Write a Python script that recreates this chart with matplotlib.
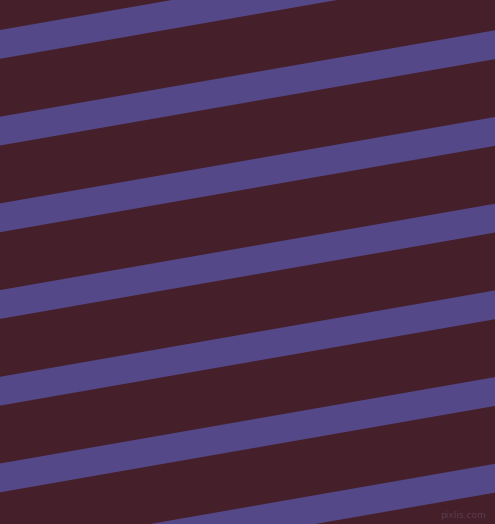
import matplotlib
matplotlib.use('Agg')
import matplotlib.pyplot as plt
import numpy as np

# canvas size in pixels
W, H = 495, 524

# stripe top edges at x=0 (pixels from the top) and their vertical thickness
stripe_tops = [-56.7, 30.0, 116.7, 203.4, 290.1, 376.8, 463.5, 550.2]
stripe_thickness = 28.8
slope = 0.1745  # rise per pixel, lines go up to the right

bg_color = '#45202b'
stripe_color = '#554889'

fig = plt.figure(figsize=(W / 100, H / 100), dpi=100)
fig.patch.set_facecolor(bg_color)
ax = fig.add_axes([0, 0, 1, 1])
ax.set_facecolor(bg_color)

x = np.array([0, W])
for top in stripe_tops:
    y_top = top - slope * x
    ax.fill_between(x, y_top, y_top + stripe_thickness, color=stripe_color, linewidth=0)

ax.text(486, 516, 'pixlis.com', color='#5a3b4b', fontsize=6.5,
        ha='right', va='center')

ax.set_xlim(0, W)
ax.set_ylim(H, 0)
ax.axis('off')

fig.savefig('out.png', dpi=100, facecolor=bg_color)
